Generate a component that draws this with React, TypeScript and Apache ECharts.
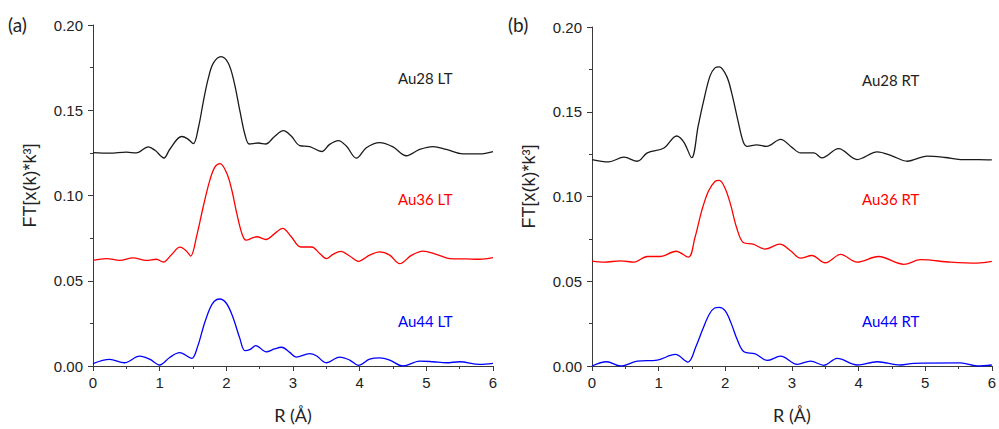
import React, { useEffect, useRef } from "react";
import * as echarts from "echarts";

// ---- Data ----
const ltBlackX = [0, 0.25, 0.5, 0.65, 0.83, 0.93, 1.065, 1.15, 1.33, 1.42, 1.505, 1.58, 1.655, 1.73, 1.805, 1.92, 2.03, 2.115, 2.205, 2.28, 2.345, 2.48, 2.59, 2.72, 2.855, 2.97, 3.1, 3.25, 3.43, 3.55, 3.68, 3.8, 3.95, 4.1, 4.3, 4.5, 4.7, 4.9, 5.1, 5.3, 5.55, 5.8, 6.0];
const ltBlackY = [0.1252, 0.1248, 0.1254, 0.125, 0.1285, 0.1265, 0.122, 0.127, 0.1346, 0.1332, 0.1304, 0.1396, 0.1551, 0.1688, 0.1776, 0.1815, 0.1776, 0.1668, 0.1493, 0.1356, 0.1302, 0.1308, 0.1302, 0.1345, 0.138, 0.135, 0.1293, 0.1287, 0.1258, 0.13, 0.1322, 0.129, 0.1219, 0.128, 0.131, 0.1285, 0.1233, 0.127, 0.1287, 0.127, 0.1244, 0.1244, 0.1258];

const ltRedX = [0, 0.2, 0.4, 0.6, 0.8, 0.95, 1.055, 1.17, 1.305, 1.4, 1.465, 1.555, 1.655, 1.755, 1.83, 1.905, 2.005, 2.08, 2.155, 2.23, 2.295, 2.455, 2.595, 2.72, 2.845, 2.97, 3.12, 3.28, 3.4, 3.5, 3.6, 3.72, 3.85, 3.98, 4.15, 4.3, 4.45, 4.6, 4.78, 4.95, 5.15, 5.35, 5.6, 5.8, 6.0];
const ltRedY = [0.062, 0.063, 0.062, 0.0634, 0.062, 0.0626, 0.061, 0.065, 0.0697, 0.0675, 0.0645, 0.0762, 0.0937, 0.1093, 0.1168, 0.1187, 0.1132, 0.1035, 0.0898, 0.0781, 0.0738, 0.0758, 0.0742, 0.0775, 0.0807, 0.076, 0.0698, 0.0698, 0.066, 0.063, 0.0655, 0.0672, 0.0645, 0.0614, 0.065, 0.0669, 0.065, 0.06, 0.065, 0.0674, 0.0655, 0.063, 0.0628, 0.0626, 0.0636];

const ltBlueX = [0, 0.25, 0.47, 0.7, 0.85, 1.0, 1.15, 1.3, 1.48, 1.57, 1.66, 1.75, 1.82, 1.9, 2.0, 2.1, 2.2, 2.28, 2.36, 2.44, 2.6, 2.72, 2.83, 2.95, 3.05, 3.25, 3.35, 3.5, 3.7, 3.85, 3.98, 4.15, 4.3, 4.45, 4.65, 4.9, 5.1, 5.3, 5.5, 5.8, 6.0];
const ltBlueY = [0.0014, 0.0039, 0.0019, 0.0058, 0.004, 0.0006, 0.005, 0.0078, 0.0045, 0.0115, 0.0235, 0.0335, 0.038, 0.0393, 0.0368, 0.0285, 0.0165, 0.009, 0.0098, 0.012, 0.0083, 0.01, 0.011, 0.008, 0.0052, 0.0072, 0.006, 0.0019, 0.0052, 0.0035, 0.0004, 0.004, 0.0048, 0.0035, 0.0, 0.0029, 0.0025, 0.0019, 0.0025, 0.001, 0.0016];

const rtBlackX = [0, 0.25, 0.48, 0.68, 0.83, 1.08, 1.27, 1.38, 1.495, 1.595, 1.67, 1.77, 1.845, 1.91, 2.02, 2.095, 2.195, 2.27, 2.33, 2.47, 2.62, 2.83, 3.0, 3.13, 3.33, 3.45, 3.7, 3.98, 4.28, 4.5, 4.73, 5.03, 5.3, 5.53, 5.8, 6.0];
const rtBlackY = [0.1218, 0.1204, 0.1232, 0.1208, 0.1257, 0.1286, 0.1357, 0.132, 0.1229, 0.1419, 0.1555, 0.171, 0.1759, 0.1765, 0.171, 0.1613, 0.1439, 0.1322, 0.1296, 0.1304, 0.1296, 0.1337, 0.129, 0.1257, 0.1257, 0.1228, 0.1282, 0.1218, 0.1263, 0.124, 0.1208, 0.1238, 0.123, 0.1218, 0.1218, 0.1216];

const rtRedX = [0, 0.18, 0.43, 0.63, 0.83, 1.02, 1.26, 1.445, 1.545, 1.645, 1.745, 1.845, 1.91, 1.995, 2.08, 2.17, 2.27, 2.42, 2.595, 2.82, 2.98, 3.13, 3.3, 3.5, 3.73, 3.98, 4.3, 4.68, 4.93, 5.38, 5.78, 6.0];
const rtRedY = [0.0619, 0.0613, 0.062, 0.0613, 0.0646, 0.0646, 0.0677, 0.0642, 0.0758, 0.0914, 0.103, 0.1089, 0.1095, 0.105, 0.0952, 0.0817, 0.0729, 0.0719, 0.069, 0.0719, 0.068, 0.0636, 0.0652, 0.0609, 0.0658, 0.0613, 0.0646, 0.06, 0.0627, 0.0613, 0.0607, 0.0617];

const rtBlueX = [0, 0.22, 0.43, 0.68, 0.98, 1.25, 1.44, 1.56, 1.66, 1.76, 1.84, 1.91, 2.0, 2.09, 2.18, 2.28, 2.45, 2.63, 2.83, 3.08, 3.28, 3.48, 3.68, 3.98, 4.28, 4.63, 4.83, 5.53, 5.78, 6.0];
const rtBlueY = [0.0, 0.0025, 0.0, 0.0029, 0.0035, 0.0068, 0.0023, 0.0115, 0.0215, 0.0305, 0.0342, 0.0346, 0.0325, 0.025, 0.0155, 0.0084, 0.0072, 0.0033, 0.0058, 0.001, 0.0029, 0.0004, 0.0045, 0.0006, 0.0025, 0.0006, 0.0016, 0.0018, 0.0, 0.0006];

const xTicks = { min: 0, max: 6, interval: 1 };
const yTicks = { min: 0, max: 0.2, interval: 0.05 };

const ltLabels = ["Au28 LT", "Au36 LT", "Au44 LT"];
const rtLabels = ["Au28 RT", "Au36 RT", "Au44 RT"];
const panelLabels = ["(a)", "(b)"];
const xTitle = "R (Å)";
const yTitle = "FT[x(k)*k³]";

const BLACK = "#1a1a1a";
const RED = "#ff0000";
const BLUE = "#0000ff";

const zip = (xs: number[], ys: number[]) => xs.map((x, i) => [x, ys[i]]);

export default function App() {
  const ref = useRef<HTMLDivElement>(null);
  useEffect(() => {
    if (!ref.current) return;
    const chart = echarts.init(ref.current, undefined, { renderer: "svg" });
    const axisLineColor = "#3a3a3a";
    const tickFont = { fontFamily: "Liberation Sans, Arial, sans-serif", fontSize: 15, color: "#222" };
    const mkX = (gi: number) => ({
      type: "value",
      gridIndex: gi,
      ...xTicks,
      name: xTitle,
      nameLocation: "middle",
      nameGap: 40,
      nameTextStyle: { fontFamily: "Lato, sans-serif", fontSize: 18, color: "#222" },
      axisLine: { show: true, lineStyle: { color: axisLineColor, width: 1 } },
      axisTick: { show: true, length: 5, lineStyle: { color: axisLineColor } },
      minorTick: { show: true, splitNumber: 2, length: 3, lineStyle: { color: axisLineColor } },
      splitLine: { show: false },
      axisLabel: { ...tickFont, margin: 9 },
    });
    const mkY = (gi: number) => ({
      type: "value",
      gridIndex: gi,
      ...yTicks,
      name: yTitle,
      nameLocation: "middle",
      nameGap: 54,
      nameTextStyle: { fontFamily: "Liberation Sans, Arial, sans-serif", fontSize: 18, color: "#222", padding: [0, 0, 0, 20] },
      axisLine: { show: true, lineStyle: { color: axisLineColor, width: 1 } },
      axisTick: { show: true, length: 5, lineStyle: { color: axisLineColor } },
      minorTick: { show: true, splitNumber: 2, length: 3, lineStyle: { color: axisLineColor } },
      splitLine: { show: false },
      axisLabel: { ...tickFont, margin: 10, formatter: (v: number) => v.toFixed(2) },
    });
    const line = (xi: number, name: string, xs: number[], ys: number[], color: string) => ({
      type: "line",
      name,
      xAxisIndex: xi,
      yAxisIndex: xi,
      data: zip(xs, ys),
      smooth: 0.35,
      showSymbol: false,
      symbol: "none",
      lineStyle: { color, width: 1.3 },
      itemStyle: { color },
    });
    const labelFont = "Lato, sans-serif";
    const txt = (x: number, y: number, text: string, color: string, size = 15) => ({
      type: "text",
      x,
      y,
      style: { text, fill: color, font: `${size}px ${labelFont}`, textVerticalAlign: "middle", verticalAlign: "middle" },
    });
    chart.setOption({
      animation: false,
      backgroundColor: "#ffffff",
      grid: [
        { left: 93, top: 25, width: 400, height: 342 },
        { left: 592, top: 27, width: 400, height: 343 },
      ],
      xAxis: [mkX(0), mkX(1)],
      yAxis: [mkY(0), mkY(1)],
      series: [
        line(0, ltLabels[0], ltBlackX, ltBlackY, BLACK),
        line(0, ltLabels[1], ltRedX, ltRedY, RED),
        line(0, ltLabels[2], ltBlueX, ltBlueY, BLUE),
        line(1, rtLabels[0], rtBlackX, rtBlackY, BLACK),
        line(1, rtLabels[1], rtRedX, rtRedY, RED),
        line(1, rtLabels[2], rtBlueX, rtBlueY, BLUE),
      ],
      graphic: [
        txt(8, 24, panelLabels[0], "#222", 19),
        txt(508, 24, panelLabels[1], "#222", 19),
        txt(398, 78, ltLabels[0], "#222"),
        txt(398, 199, ltLabels[1], RED),
        txt(398, 321, ltLabels[2], BLUE),
        txt(862, 80, rtLabels[0], "#222"),
        txt(862, 199, rtLabels[1], RED),
        txt(862, 321, rtLabels[2], BLUE),
      ],
    });
    return () => chart.dispose();
  }, []);
  return (
    <div
      ref={ref}
      style={{ position: "fixed", left: 0, top: 0, width: 999, height: 429, background: "#fff" }}
    />
  );
}
